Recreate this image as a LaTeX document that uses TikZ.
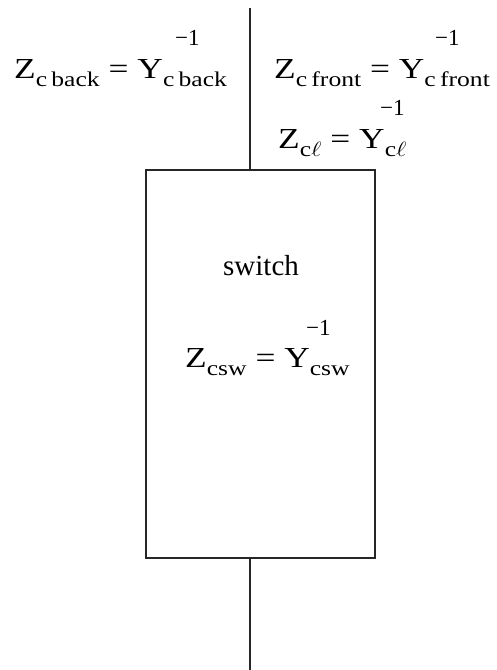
\documentclass[tikz,border=0pt]{standalone}
\usepackage{fontspec}
\setmainfont{Liberation Serif}
\newcommand{\sbs}[1]{\raisebox{-0.28em}{\fontsize{21}{23}\selectfont #1}}
\newcommand{\wide}[1]{\scalebox{1.22}[1]{#1}}
\tikzset{
  txt/.style={inner sep=0pt, anchor=base west, font=\fontsize{29}{32}\selectfont},
  expo/.style={inner sep=0pt, anchor=base west, font=\fontsize{23}{25}\selectfont},
  wire/.style={line width=1.5pt, draw=black!85},
  swbox/.style={draw=black!85, line width=1.5pt, minimum width=229pt, minimum height=388pt, inner sep=0pt}
}
\begin{document}
\begin{tikzpicture}[x=1pt,y=-1pt]
\useasboundingbox (0,0) rectangle (496,670);
\node[swbox] (sw) at (260.5,364) {};
\coordinate (top) at (250,8);
\coordinate (bot) at (250,670);
\draw[wire] (top) -- (top |- sw.north);
\draw[wire] (top |- sw.south) -- (bot);
\node[txt] (back) at (14,78) {\wide{Z\sbs{c\,back} = Y\sbs{c\,back}}};
\node[expo] (backexp) at (175,45) {−1};
\node[txt] (front) at (274,78) {\wide{Z\sbs{c\,front} = Y\sbs{c\,front}}};
\node[expo] (frontexp) at (435,45) {−1};
\node[txt] (cl) at (278,148) {\wide{Z\sbs{c$\ell$} = Y\sbs{c$\ell$}}};
\node[expo] (clexp) at (380,115) {−1};
\node[txt] (swlabel) at (223,275) {switch};
\node[txt] (csw) at (185,367) {\wide{Z\sbs{csw} = Y\sbs{csw}}};
\node[expo] (cswexp) at (306,335) {−1};
\end{tikzpicture}
\end{document}
